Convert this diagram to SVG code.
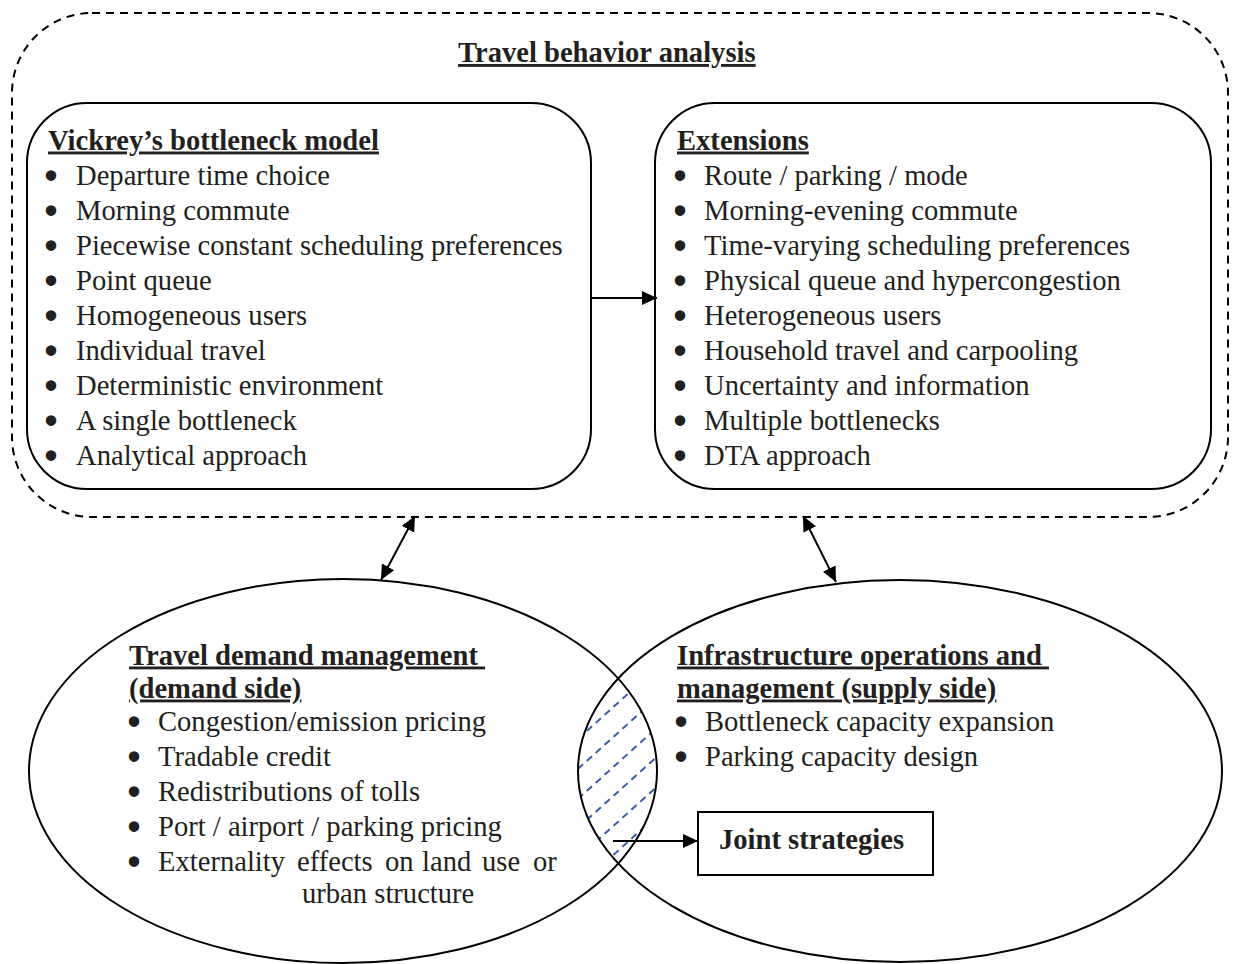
<svg xmlns="http://www.w3.org/2000/svg" width="1233" height="964" viewBox="0 0 1233 964">
<style>
.t{font-family:"Liberation Serif","Times New Roman",serif;font-size:28.6px;fill:#231f20}
.b{font-weight:bold}
.u{text-decoration:underline}
.bl{font-family:"Liberation Serif","Times New Roman",serif;font-size:28.6px;fill:#231f20;stroke:#231f20;stroke-width:3.6;text-anchor:middle}
.ln{fill:none;stroke:#000;stroke-width:2}
.hatch{stroke:#3d5ba9;stroke-width:2;stroke-dasharray:7 5;fill:none}
</style>
<defs>
<marker id="ah" markerUnits="userSpaceOnUse" markerWidth="16" markerHeight="14" refX="15" refY="7" orient="auto-start-reverse">
<path d="M0,0 L15,7 L0,14 z" fill="#000"/>
</marker>
<clipPath id="cl"><ellipse cx="343" cy="771" rx="314" ry="192"/></clipPath>
<clipPath id="cr"><ellipse cx="900" cy="771" rx="322" ry="191"/></clipPath>
</defs>
<rect width="1233" height="964" fill="#fff"/>

<g id="travel-behavior-analysis">
<rect x="12" y="13" width="1216" height="504" rx="80" ry="80" fill="none" stroke="#000" stroke-width="2" stroke-dasharray="8 6"/>
<text class="t b u" x="458" y="62">Travel behavior analysis</text>
</g>

<g id="vickrey">
<rect class="ln" x="27" y="103" width="564" height="386" rx="60" ry="60"/>
<text class="t b u" x="48" y="149.5">Vickrey’s bottleneck model</text>
<g class="bl">
<text x="51" y="185.5">•</text><text x="51" y="220.5">•</text><text x="51" y="255.5">•</text>
<text x="51" y="290.5">•</text><text x="51" y="325.5">•</text><text x="51" y="360.5">•</text>
<text x="51" y="395.5">•</text><text x="51" y="430.5">•</text><text x="51" y="465.5">•</text>
</g>
<g class="t">
<text x="76" y="184.5">Departure time choice</text>
<text x="76" y="219.5">Morning commute</text>
<text x="76" y="254.5">Piecewise constant scheduling preferences</text>
<text x="76" y="289.5">Point queue</text>
<text x="76" y="324.5">Homogeneous users</text>
<text x="76" y="359.5">Individual travel</text>
<text x="76" y="394.5">Deterministic environment</text>
<text x="76" y="429.5">A single bottleneck</text>
<text x="76" y="464.5">Analytical approach</text>
</g>
</g>

<g id="extensions">
<rect class="ln" x="655" y="103" width="556" height="386" rx="60" ry="60"/>
<text class="t b u" x="677" y="149.5">Extensions</text>
<g class="bl">
<text x="680" y="185.5">•</text><text x="680" y="220.5">•</text><text x="680" y="255.5">•</text>
<text x="680" y="290.5">•</text><text x="680" y="325.5">•</text><text x="680" y="360.5">•</text>
<text x="680" y="395.5">•</text><text x="680" y="430.5">•</text><text x="680" y="465.5">•</text>
</g>
<g class="t">
<text x="704" y="184.5">Route / parking / mode</text>
<text x="704" y="219.5">Morning-evening commute</text>
<text x="704" y="254.5">Time-varying scheduling preferences</text>
<text x="704" y="289.5">Physical queue and hypercongestion</text>
<text x="704" y="324.5">Heterogeneous users</text>
<text x="704" y="359.5">Household travel and carpooling</text>
<text x="704" y="394.5">Uncertainty and information</text>
<text x="704" y="429.5">Multiple bottlenecks</text>
<text x="704" y="464.5">DTA approach</text>
</g>
</g>

<g id="overlap-hatch" clip-path="url(#cl)">
<g clip-path="url(#cr)">
<line class="hatch" x1="560" y1="755" x2="670" y2="656"/>
<line class="hatch" x1="560" y1="785" x2="670" y2="686"/>
<line class="hatch" x1="560" y1="815" x2="670" y2="716"/>
<line class="hatch" x1="560" y1="844" x2="670" y2="745"/>
<line class="hatch" x1="560" y1="874" x2="670" y2="775"/>
<line class="hatch" x1="560" y1="903" x2="670" y2="804"/>
</g>
</g>

<g id="demand-side">
<ellipse class="ln" cx="343" cy="771" rx="314" ry="192"/>
<text class="t b u" x="129" y="664.5">Travel demand management&#160;</text>
<text class="t b u" x="129" y="697.5">(demand side)</text>
<g class="bl">
<text x="134" y="732">•</text><text x="134" y="767">•</text><text x="134" y="802">•</text>
<text x="134" y="837">•</text><text x="134" y="872">•</text>
</g>
<g class="t">
<text x="158" y="731">Congestion/emission pricing</text>
<text x="158" y="766">Tradable credit</text>
<text x="158" y="801">Redistributions of tolls</text>
<text x="158" y="836">Port / airport / parking pricing</text>
<text y="871"><tspan x="158">Externality</tspan><tspan x="297">effects</tspan><tspan x="385">on</tspan><tspan x="422">land</tspan><tspan x="482">use</tspan><tspan x="533">or</tspan></text>
<text x="302" y="903">urban structure</text>
</g>
</g>

<g id="supply-side">
<ellipse class="ln" cx="900" cy="771" rx="322" ry="191"/>
<text class="t b u" x="677" y="664.5">Infrastructure operations and&#160;</text>
<text class="t b u" x="677" y="697.5">management (supply side)</text>
<g class="bl">
<text x="681" y="732">•</text><text x="681" y="767">•</text>
</g>
<g class="t">
<text x="705" y="731">Bottleneck capacity expansion</text>
<text x="705" y="766">Parking capacity design</text>
</g>
</g>

<g id="joint-strategies">
<rect class="ln" x="698" y="812" width="235" height="63"/>
<text class="t b" x="719" y="849">Joint strategies</text>
</g>

<g id="connectors" fill="none" stroke="#000" stroke-width="2">
<line x1="592" y1="298" x2="657" y2="298" marker-end="url(#ah)"/>
<line x1="415" y1="516" x2="381" y2="580" marker-start="url(#ah)" marker-end="url(#ah)"/>
<line x1="803" y1="516" x2="836" y2="582" marker-start="url(#ah)" marker-end="url(#ah)"/>
<line x1="613" y1="841" x2="698" y2="841" marker-end="url(#ah)"/>
</g>
</svg>
